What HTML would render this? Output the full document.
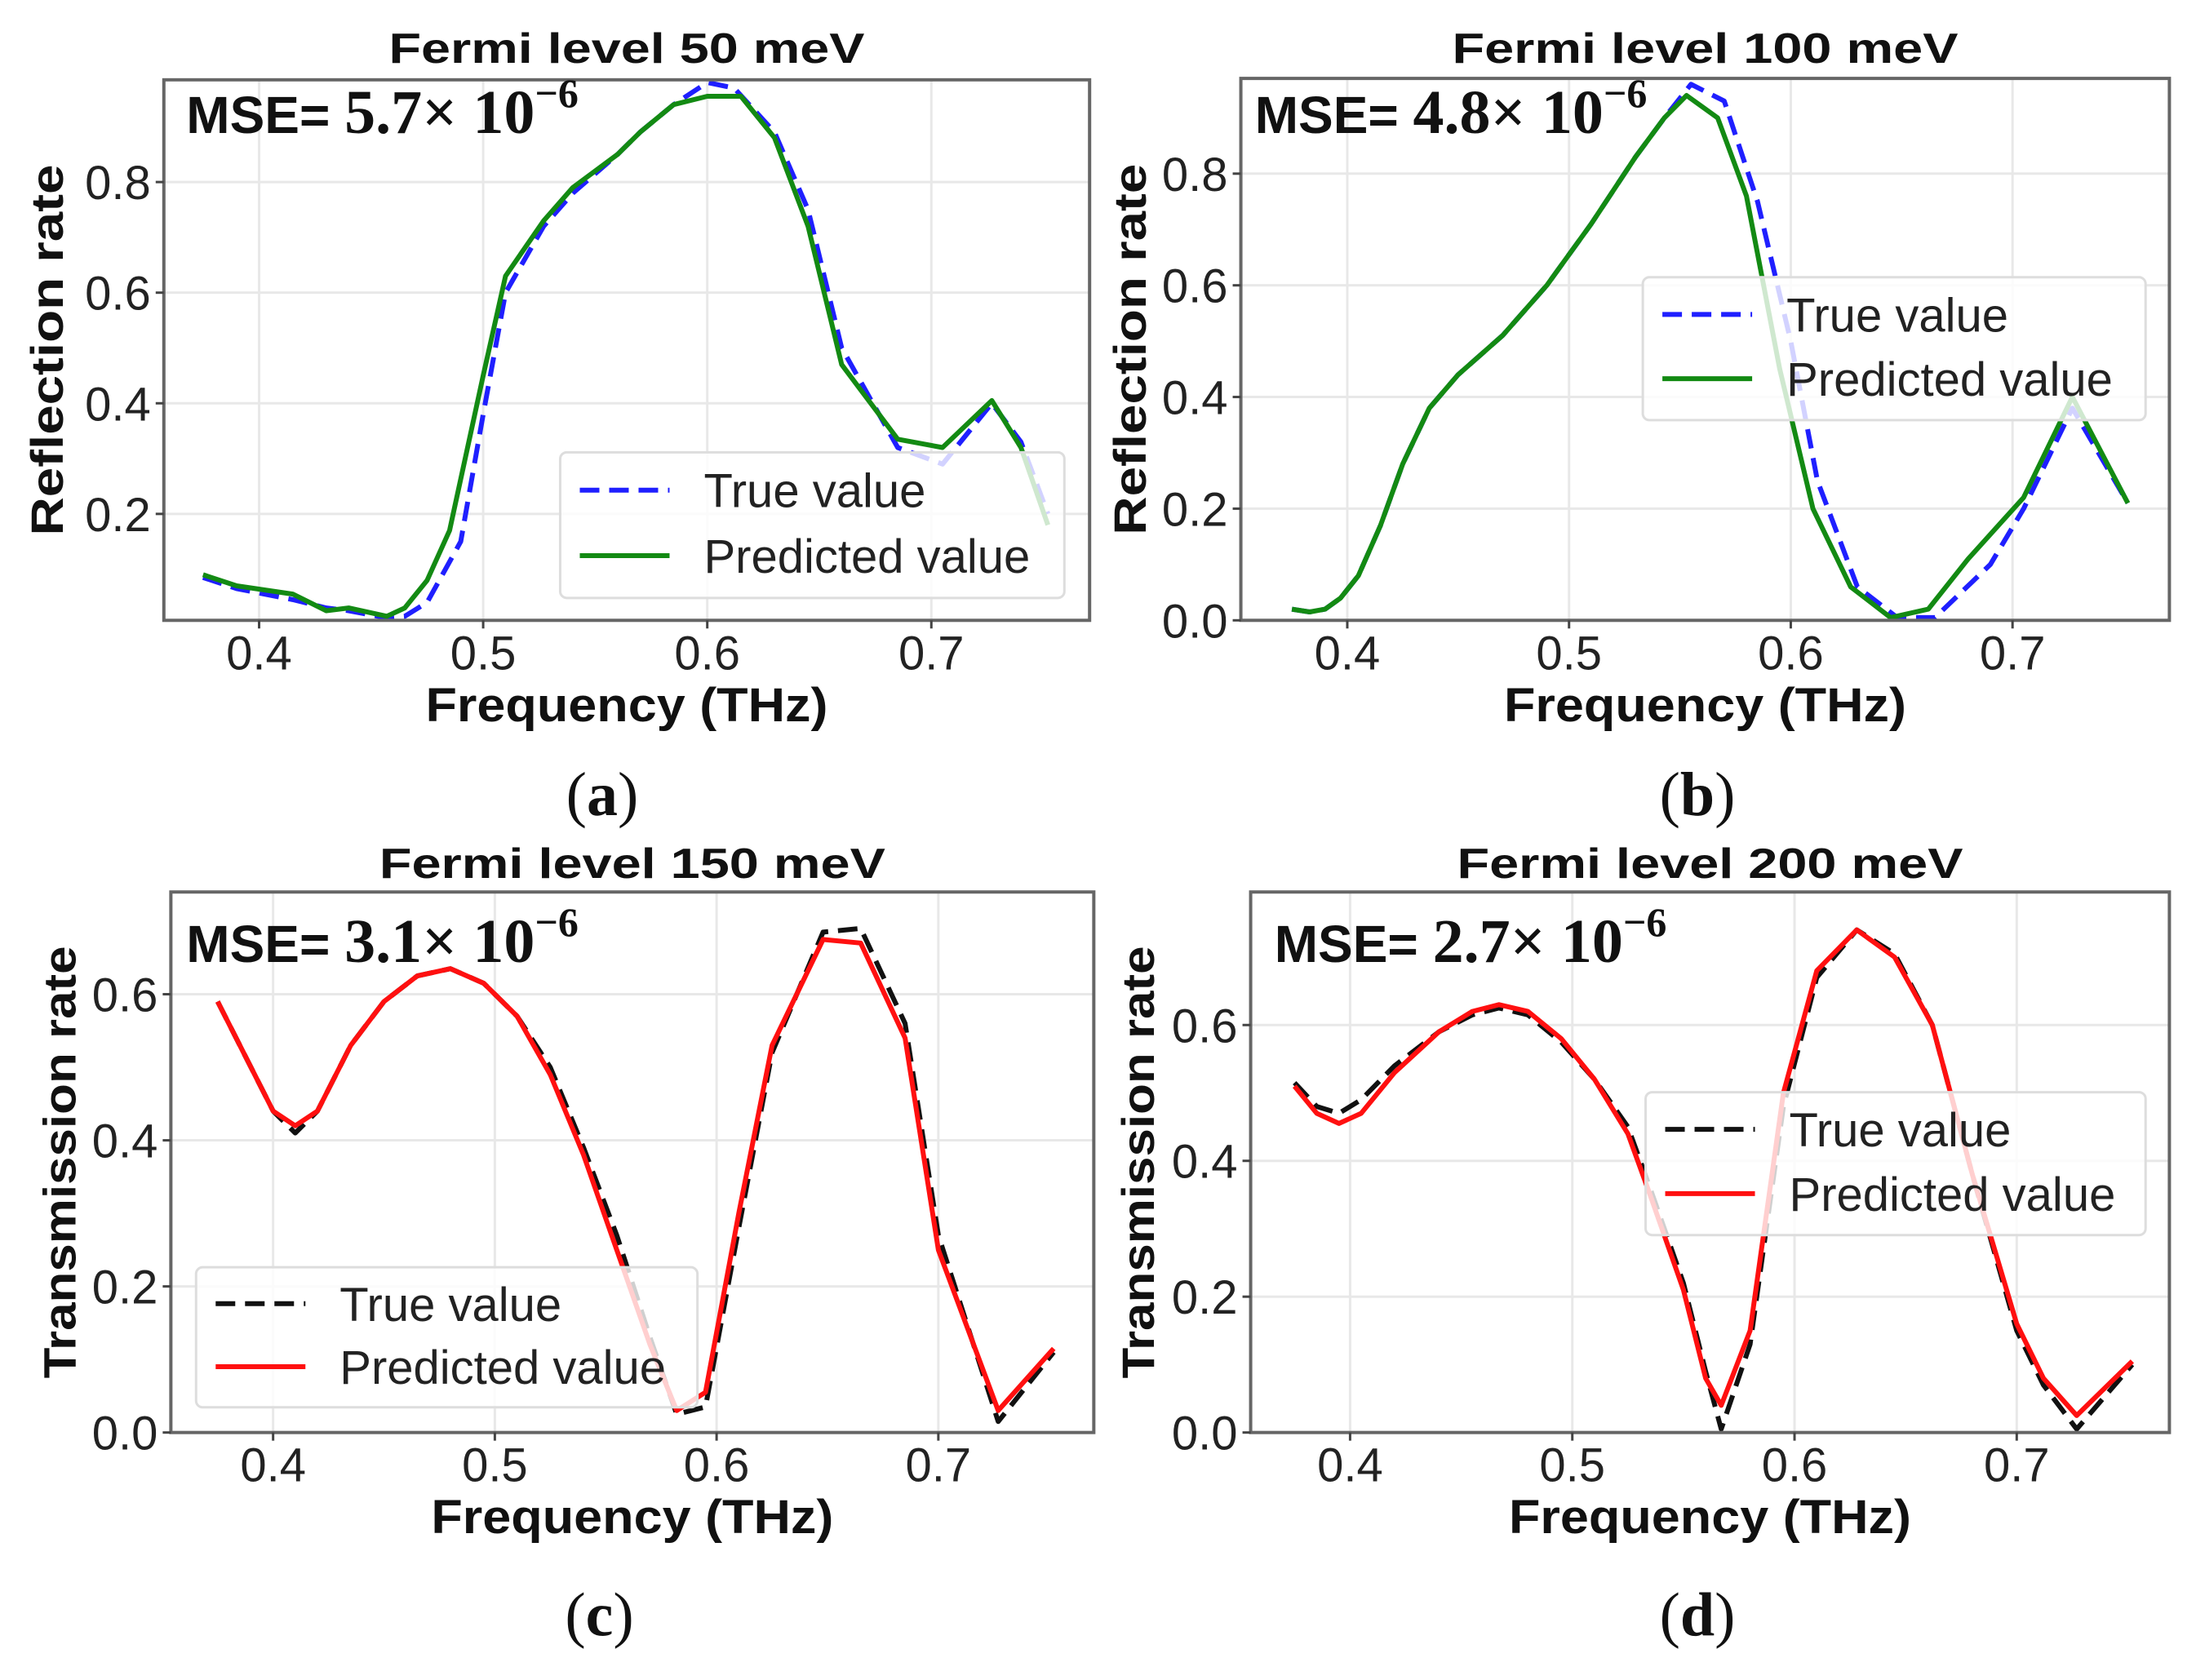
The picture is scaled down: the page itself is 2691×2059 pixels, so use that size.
<!DOCTYPE html>
<html><head><meta charset="utf-8"><style>
html,body{margin:0;padding:0;background:#fff;overflow:hidden;}
svg{display:block;}
</style></head><body>
<svg id="fig" width="2691" height="2059" viewBox="0 0 2691 2059" xmlns="http://www.w3.org/2000/svg" font-family="Liberation Sans, DejaVu Sans, sans-serif"></svg>
<script>
// ---- data ----
const aPredX=[0.375,0.39,0.415,0.43,0.44,0.457,0.465,0.475,0.485,0.5,0.51,0.527,0.54,0.56,0.57,0.585,0.6,0.615,0.63,0.645,0.66,0.685,0.705,0.727,0.74,0.752];
const aPredY=[0.09,0.07,0.055,0.025,0.03,0.015,0.03,0.08,0.17,0.45,0.63,0.73,0.79,0.85,0.89,0.94,0.955,0.955,0.88,0.72,0.47,0.335,0.32,0.405,0.32,0.18];
const aTrueX=[0.375,0.39,0.415,0.43,0.44,0.457,0.465,0.475,0.49,0.5,0.51,0.527,0.54,0.56,0.57,0.585,0.6,0.612,0.63,0.645,0.66,0.685,0.705,0.727,0.74,0.752];
const aTrueY=[0.085,0.065,0.045,0.03,0.025,0.012,0.015,0.04,0.15,0.38,0.6,0.72,0.78,0.85,0.89,0.94,0.98,0.97,0.89,0.75,0.5,0.32,0.29,0.4,0.33,0.2];
const bPredX=[0.375,0.383,0.39,0.397,0.405,0.415,0.425,0.437,0.45,0.47,0.49,0.51,0.53,0.543,0.553,0.567,0.58,0.595,0.61,0.627,0.645,0.662,0.68,0.705,0.727,0.752];
const bPredY=[0.02,0.015,0.02,0.04,0.08,0.17,0.28,0.38,0.44,0.51,0.6,0.71,0.83,0.9,0.94,0.9,0.76,0.45,0.2,0.06,0.005,0.02,0.11,0.22,0.4,0.21];
const bTrueX=[0.375,0.383,0.39,0.397,0.405,0.415,0.425,0.437,0.45,0.47,0.49,0.51,0.53,0.543,0.555,0.57,0.585,0.6,0.612,0.63,0.648,0.665,0.69,0.705,0.727,0.752];
const bTrueY=[0.02,0.015,0.02,0.04,0.08,0.17,0.28,0.38,0.44,0.51,0.6,0.71,0.83,0.9,0.96,0.93,0.75,0.5,0.25,0.06,0.005,0.005,0.1,0.2,0.38,0.21];
const cPredX=[0.375,0.39,0.4,0.41,0.42,0.435,0.45,0.465,0.48,0.495,0.51,0.525,0.54,0.555,0.57,0.582,0.595,0.61,0.625,0.648,0.665,0.685,0.7,0.727,0.752];
const cPredY=[0.59,0.5,0.44,0.42,0.44,0.53,0.59,0.625,0.635,0.615,0.57,0.49,0.38,0.25,0.12,0.03,0.055,0.3,0.53,0.675,0.67,0.54,0.25,0.03,0.115];
const cTrueY=[0.59,0.5,0.44,0.41,0.44,0.53,0.59,0.625,0.635,0.615,0.57,0.5,0.39,0.27,0.13,0.025,0.035,0.28,0.52,0.685,0.69,0.56,0.27,0.015,0.11];
const dPredX=[0.375,0.385,0.395,0.405,0.42,0.44,0.455,0.467,0.48,0.495,0.51,0.525,0.535,0.55,0.56,0.567,0.58,0.595,0.61,0.628,0.645,0.662,0.68,0.7,0.712,0.727,0.752];
const dPredY=[0.51,0.47,0.455,0.47,0.53,0.59,0.62,0.63,0.62,0.58,0.52,0.44,0.35,0.21,0.08,0.04,0.15,0.5,0.68,0.74,0.7,0.6,0.38,0.16,0.08,0.025,0.105];
const dTrueY=[0.515,0.48,0.47,0.49,0.54,0.59,0.615,0.625,0.615,0.575,0.52,0.45,0.36,0.22,0.09,0.005,0.13,0.48,0.67,0.74,0.705,0.6,0.38,0.15,0.07,0.005,0.1];
const xTicks=[0.4,0.5,0.6,0.7];
const xTickLabels=["0.4","0.5","0.6","0.7"];
const yTicksA=[0.2,0.4,0.6,0.8];
const yTicksB=[0.0,0.2,0.4,0.6,0.8];
const yTicksC=[0.0,0.2,0.4,0.6];

const S=2691/1568;
const NS="http://www.w3.org/2000/svg";
const svg=document.getElementById('fig');
function mk(tag,attrs,parent,text){const e=document.createElementNS(NS,tag);for(const k in attrs)e.setAttribute(k,attrs[k]);if(text!==undefined)e.textContent=text;(parent||svg).appendChild(e);return e;}

function panel(q){
  const p={};for(const k in q)p[k]=q[k];
  ['left','right','top','bottom','x4','x7','y0','yRef','ylabX','subY','xlabY','tickY','titleY','mseY','mseX','subX'].forEach(k=>p[k]=q[k]*S);
  p.leg={x:q.leg.x*S,y:q.leg.y*S,w:q.leg.w*S,h:q.leg.h*S};
  const g=mk('g',{});
  
  
  const sx=v=>p.x4+(v-0.4)*(p.x7-p.x4)/0.3;
  const sy=v=>p.y0+(v)*(p.yRef-p.y0)/p.yRefVal;
  xTicks.forEach(t=>{const l=mk('line',{x1:sx(t),x2:sx(t),y1:p.top,y2:p.bottom,stroke:'#e8e8e8','stroke-width':3},g);});
  p.yTicks.forEach(t=>{const l=mk('line',{x1:p.left,x2:p.right,y1:sy(t),y2:sy(t),stroke:'#e8e8e8','stroke-width':3},g);});
  const clip='clip-'+p.id;
  const cp=mk('clipPath',{id:clip},g);mk('rect',{x:p.left,y:p.top-10,width:p.right-p.left,height:p.bottom-p.top+10},cp);
  function series(xs,ys,color,dash,name){
    const d=xs.map((x,i)=>(i?'L':'M')+sx(x).toFixed(1)+','+sy(ys[i]).toFixed(1)).join('');
    const a={d:d,fill:'none',stroke:color,'stroke-width':6,'stroke-linejoin':'round','clip-path':'url(#'+clip+')'};
    if(dash)a['stroke-dasharray']='24,12';
    const e=mk('path',a,g);
    
    
  }
  series(p.trueX,p.trueY,p.trueColor,true,'true-value-line');
  series(p.predX,p.predY,p.predColor,false,'predicted-value-line');
  const fr=mk('rect',{x:p.left,y:p.top,width:p.right-p.left,height:p.bottom-p.top,fill:'none',stroke:'#666','stroke-width':4},g);
  
  xTicks.forEach((t,i)=>{
    mk('line',{x1:sx(t),x2:sx(t),y1:p.bottom,y2:p.bottom+10,stroke:'#444','stroke-width':3},g);
    const tx=mk('text',{x:sx(t),y:p.tickY,'font-size':58,'text-anchor':'middle',fill:'#222'},g,xTickLabels[i]);
    
  });
  p.yTicks.forEach(t=>{
    mk('line',{x1:p.left-10,x2:p.left,y1:sy(t),y2:sy(t),stroke:'#444','stroke-width':3},g);
    const tx=mk('text',{x:p.left-16,y:sy(t)+21,'font-size':58,'text-anchor':'end',fill:'#222'},g,t.toFixed(1));
    
  });
  const cx=(p.left+p.right)/2;
  const ti=mk('text',{x:cx,y:p.titleY,'font-size':52,'font-weight':'bold','text-anchor':'middle',fill:'#111',textLength:p.titleW,lengthAdjust:'spacingAndGlyphs'},g,p.title);
  
  const xl=mk('text',{x:cx,y:p.xlabY,'font-size':58,'font-weight':'bold','text-anchor':'middle',fill:'#111',textLength:493,lengthAdjust:'spacingAndGlyphs'},g,'Frequency (THz)');
  
  const ycx=p.ylabX, ycy=(p.top+p.bottom)/2;
  const yl=mk('text',{x:ycx,y:ycy,'font-size':56,'font-weight':'bold','text-anchor':'middle',fill:'#111',transform:'rotate(-90 '+ycx+' '+ycy+')',textLength:p.ylabW,lengthAdjust:'spacingAndGlyphs'},g,p.ylab);
  
  const ms=mk('text',{x:p.mseX,y:p.mseY,'font-size':64,fill:'#111'},g);
  
  mk('tspan',{'font-weight':'bold'},ms,'MSE= ');
  mk('tspan',{'font-family':'Liberation Serif, serif','font-size':76,'font-weight':'bold'},ms,p.mse+'× 10');
  mk('tspan',{'font-family':'Liberation Serif, serif','font-size':50,dy:-32,'font-weight':'bold'},ms,'−6');
  const L=p.leg;
  const lg=mk('g',{},g);
  mk('rect',{x:L.x,y:L.y,width:L.w,height:L.h,rx:8,fill:'#fff','fill-opacity':0.8,stroke:'#ddd','stroke-width':3},lg);
  const r1=L.y+L.h*0.26, r2=L.y+L.h*0.71;
  const e1=mk('g',{},lg);
  mk('line',{x1:L.x+24,x2:L.x+134,y1:r1,y2:r1,stroke:p.trueColor,'stroke-width':6,'stroke-dasharray':'24,12'},e1);
  mk('text',{x:L.x+176,y:r1+21,'font-size':58,fill:'#222'},e1,'True value');
  const e2=mk('g',{},lg);
  mk('line',{x1:L.x+24,x2:L.x+134,y1:r2,y2:r2,stroke:p.predColor,'stroke-width':6},e2);
  mk('text',{x:L.x+176,y:r2+21,'font-size':58,fill:'#222'},e2,'Predicted value');
  const sl=mk('text',{x:p.subX,y:p.subY,'font-size':76,'font-family':'Liberation Serif, serif','text-anchor':'middle',fill:'#111'},g);
  
  mk('tspan',{},sl,'(');mk('tspan',{'font-weight':'bold'},sl,p.sub);mk('tspan',{},sl,')');
}

panel({id:'panel-a',left:117,right:778,top:57,bottom:443,x4:185,x7:665,y0:446,yRef:130,yRefVal:0.8,yTicks:yTicksA,
  trueX:aTrueX,trueY:aTrueY,predX:aPredX,predY:aPredY,trueColor:'#1f1fff',predColor:'#138a13',
  title:'Fermi level 50 meV',titleW:583,titleY:45,ylab:'Reflection rate',ylabX:45,ylabW:455,mse:'5.7',mseX:133,mseY:95,
  tickY:478,xlabY:515,leg:{x:400,y:323,w:360,h:104},sub:'a',subX:430,subY:582});
panel({id:'panel-b',left:886,right:1549,top:56,bottom:443,x4:962,x7:1437,y0:443,yRef:124,yRefVal:0.8,yTicks:yTicksB,
  trueX:bTrueX,trueY:bTrueY,predX:bPredX,predY:bPredY,trueColor:'#1f1fff',predColor:'#138a13',
  title:'Fermi level 100 meV',titleW:620,titleY:45,ylab:'Reflection rate',ylabX:818,ylabW:455,mse:'4.8',mseX:896,mseY:95,
  tickY:478,xlabY:515,leg:{x:1173,y:198,w:359,h:102},sub:'b',subX:1212,subY:582});
panel({id:'panel-c',left:122,right:781,top:637,bottom:1023,x4:195,x7:670,y0:1023,yRef:710,yRefVal:0.6,yTicks:yTicksC,
  trueX:cPredX,trueY:cTrueY,predX:cPredX,predY:cPredY,trueColor:'#111',predColor:'#ff1010',
  title:'Fermi level 150 meV',titleW:620,titleY:627,ylab:'Transmission rate',ylabX:54,ylabW:530,mse:'3.1',mseX:133,mseY:687,
  tickY:1058,xlabY:1095,leg:{x:140,y:905,w:358,h:100},sub:'c',subX:428,subY:1168});
panel({id:'panel-d',left:893,right:1549,top:637,bottom:1023,x4:964,x7:1440,y0:1023,yRef:732,yRefVal:0.6,yTicks:yTicksC,
  trueX:dPredX,trueY:dTrueY,predX:dPredX,predY:dPredY,trueColor:'#111',predColor:'#ff1010',
  title:'Fermi level 200 meV',titleW:620,titleY:627,ylab:'Transmission rate',ylabX:824,ylabW:530,mse:'2.7',mseX:910,mseY:687,
  tickY:1058,xlabY:1095,leg:{x:1175,y:780,w:357,h:102},sub:'d',subX:1212,subY:1168});
</script>
</body></html>
